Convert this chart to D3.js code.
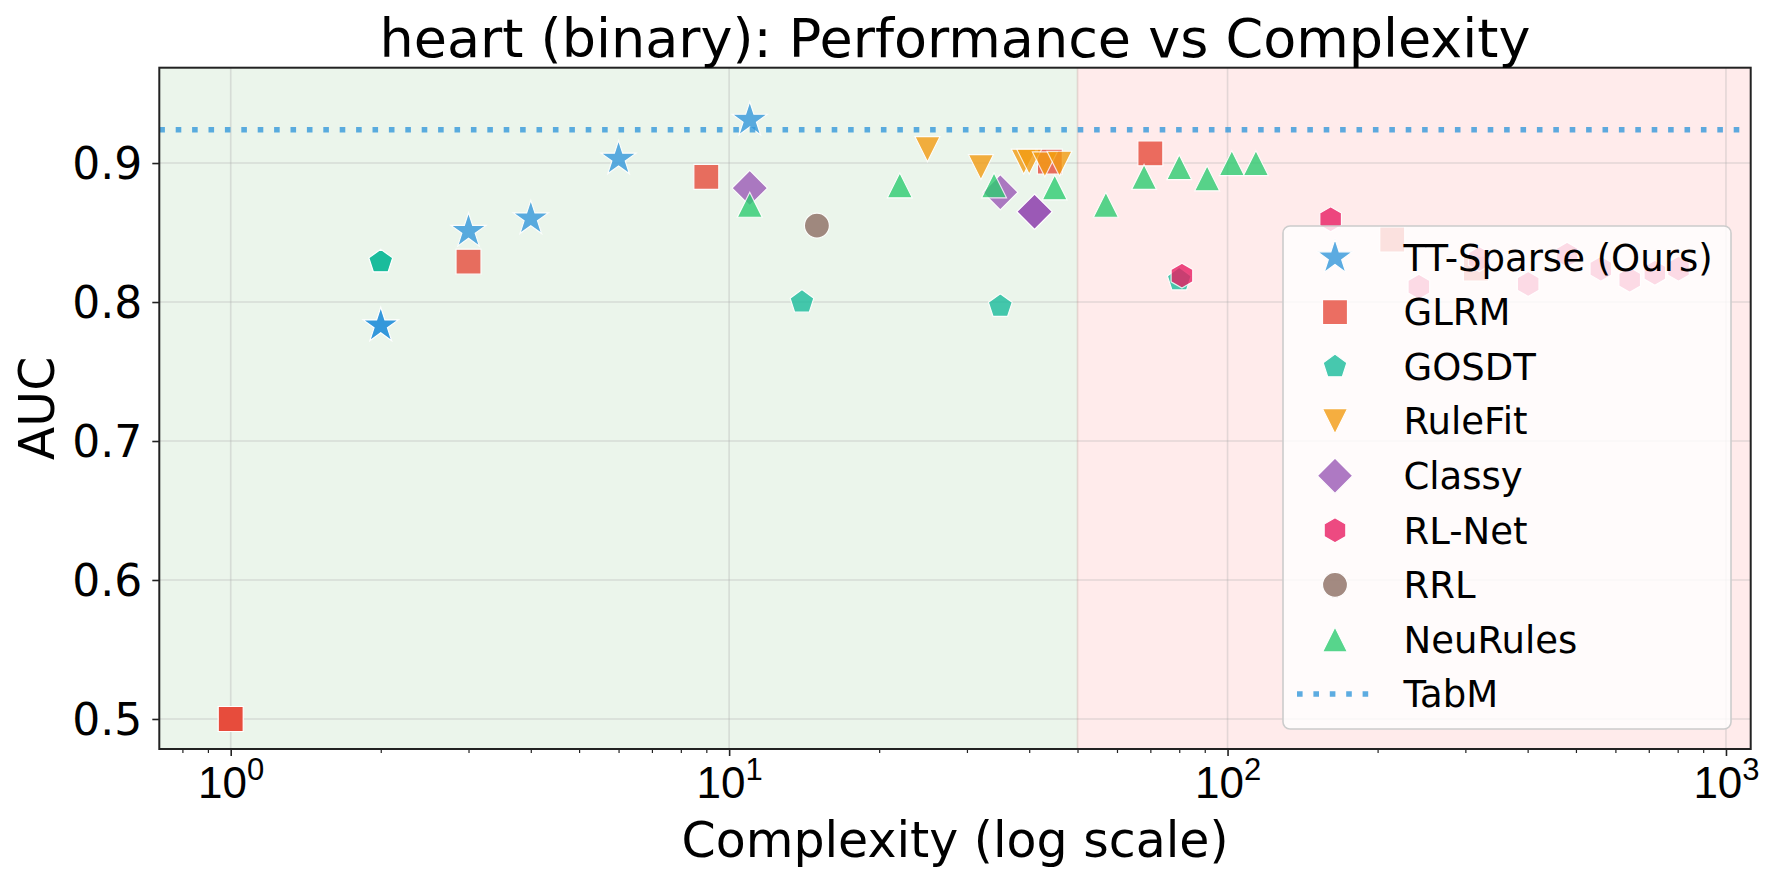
<!DOCTYPE html>
<html>
<head>
<meta charset="utf-8">
<script src="https://cdn.jsdelivr.net/npm/d3@7"></script>
<style>
  body { margin: 0; background: #fff; }
  svg { font-family: "DejaVu Sans", sans-serif; }
</style>
</head>
<body>
<div id="vis"></div>
<script>
const FRAME_WIDTH = 1779;
const FRAME_HEIGHT = 881;
const PLOT = {left: 159.3, right: 1750.7, top: 67.7, bottom: 749};

// ---- data ----
const METHODS = ["TT-Sparse (Ours)", "GLRM", "GOSDT", "RuleFit", "Classy", "RL-Net", "RRL", "NeuRules"];

const TT_SPARSE_X = [2, 3, 4, 6, 11];
const TT_SPARSE_Y = [0.783, 0.851, 0.860, 0.903, 0.931];

const GLRM_X = [1, 3, 9, 44, 70, 214, 315];
const GLRM_Y = [0.500, 0.829, 0.890, 0.901, 0.907, 0.845, 0.824];

const GOSDT_X = [2, 14, 35, 80];
const GOSDT_Y = [0.829, 0.800, 0.797, 0.816];

const RULEFIT_X = [25, 32, 39, 40, 43, 46];
const RULEFIT_Y = [0.910, 0.897, 0.901, 0.901, 0.899, 0.8995];

const CLASSY_X = [11, 35, 41];
const CLASSY_Y = [0.882, 0.879, 0.865];

const RLNET_X = [81, 161, 242, 320, 401, 480, 561, 641, 720, 803];
const RLNET_Y = [0.819, 0.8595, 0.811, 0.831, 0.813, 0.834, 0.824, 0.816, 0.821, 0.824];

const RRL_X = [15];
const RRL_Y = [0.855];

const NEURULES_X = [11, 22, 34, 45, 57, 68, 80, 91, 102, 114];
const NEURULES_Y = [0.870, 0.884, 0.884, 0.8825, 0.870, 0.890, 0.897, 0.889, 0.900, 0.900];

// points drawn fully opaque in the reference (method, complexity)
const HIGHLIGHTED = [["TT-Sparse (Ours)", 2], ["GLRM", 1], ["GOSDT", 2], ["Classy", 41]];

const TABM_AUC = 0.924;
const SIMPLE_LIMIT = 50;     // green / red split

const X_TICKS = [1, 10, 100, 1000];
const Y_TICKS = [0.5, 0.6, 0.7, 0.8, 0.9];

// ---- styles ----
const COLORS = {
  "TT-Sparse (Ours)": "#3498db", "GLRM": "#e74c3c", "GOSDT": "#1abc9c",
  "RuleFit": "#f39c12", "Classy": "#9b59b6", "RL-Net": "#e91e63",
  "RRL": "#8d6e63", "NeuRules": "#2ecc71"
};
const SHAPES = {
  "TT-Sparse (Ours)": "star", "GLRM": "square", "GOSDT": "pentagon",
  "RuleFit": "down", "Classy": "diamond", "RL-Net": "hexagon",
  "RRL": "circle", "NeuRules": "up"
};

const SERIES = [
  {name: METHODS[0], xs: TT_SPARSE_X, ys: TT_SPARSE_Y},
  {name: METHODS[1], xs: GLRM_X, ys: GLRM_Y},
  {name: METHODS[2], xs: GOSDT_X, ys: GOSDT_Y},
  {name: METHODS[3], xs: RULEFIT_X, ys: RULEFIT_Y},
  {name: METHODS[4], xs: CLASSY_X, ys: CLASSY_Y},
  {name: METHODS[5], xs: RLNET_X, ys: RLNET_Y},
  {name: METHODS[6], xs: RRL_X, ys: RRL_Y},
  {name: METHODS[7], xs: NEURULES_X, ys: NEURULES_Y}
];

// marker outline centred on 0,0 (ms = marker size in px, like matplotlib)
function polygon(n, R, start, inner) {
  const pts = [];
  const k = inner ? 2 * n : n;
  for (let i = 0; i < k; i++) {
    const a = start + i * 2 * Math.PI / k;
    const r = inner && (i % 2 === 1) ? R * inner : R;
    pts.push([r * Math.cos(a), r * Math.sin(a)]);
  }
  return "M" + pts.map(p => p[0].toFixed(2) + "," + p[1].toFixed(2)).join("L") + "Z";
}
function markerPath(shape) {
  const ms = 25, h = ms / 2, top = -Math.PI / 2;
  switch (shape) {
    case "star": return polygon(5, 18.5, top, 0.381966);
    case "square": return `M${-h},${-h}H${h}V${h}H${-h}Z`;
    case "pentagon": return polygon(5, h, top);
    case "hexagon": return polygon(6, h, top);
    case "diamond": return polygon(4, ms * Math.SQRT1_2, top);
    case "up": return `M0,${-h}L${h},${h}L${-h},${h}Z`;
    case "down": return `M0,${h}L${h},${-h}L${-h},${-h}Z`;
    case "circle": return `M${h},0A${h},${h} 0 1,1 ${-h},0A${h},${h} 0 1,1 ${h},0Z`;
  }
}

const svg = d3.select("#vis").append("svg")
  .attr("width", FRAME_WIDTH)
  .attr("height", FRAME_HEIGHT);

const X_SCALE = d3.scaleLog()
  .domain([0.719, 1121])
  .range([PLOT.left, PLOT.right]);
const Y_SCALE = d3.scaleLinear()
  .domain([0.4784, 0.9686])
  .range([PLOT.bottom, PLOT.top]);

svg.append("clipPath").attr("id", "clip")
  .append("rect")
    .attr("x", PLOT.left).attr("y", PLOT.top)
    .attr("width", PLOT.right - PLOT.left)
    .attr("height", PLOT.bottom - PLOT.top);

const plotArea = svg.append("g").attr("clip-path", "url(#clip)");

// background zones
plotArea.append("rect")
  .attr("x", PLOT.left).attr("y", PLOT.top)
  .attr("width", X_SCALE(SIMPLE_LIMIT) - PLOT.left)
  .attr("height", PLOT.bottom - PLOT.top)
  .attr("fill", "#ebf5eb");
plotArea.append("rect")
  .attr("x", X_SCALE(SIMPLE_LIMIT)).attr("y", PLOT.top)
  .attr("width", PLOT.right - X_SCALE(SIMPLE_LIMIT))
  .attr("height", PLOT.bottom - PLOT.top)
  .attr("fill", "#ffebeb");

// grid
plotArea.append("g")
  .selectAll("line.gx").data(X_TICKS).enter()
  .append("line")
    .attr("x1", d => X_SCALE(d)).attr("x2", d => X_SCALE(d))
    .attr("y1", PLOT.top).attr("y2", PLOT.bottom)
    .attr("stroke", "#b0b0b0").attr("stroke-opacity", 0.35).attr("stroke-width", 1.6);
plotArea.append("g")
  .selectAll("line.gy").data(Y_TICKS).enter()
  .append("line")
    .attr("x1", PLOT.left).attr("x2", PLOT.right)
    .attr("y1", d => Y_SCALE(d)).attr("y2", d => Y_SCALE(d))
    .attr("stroke", "#b0b0b0").attr("stroke-opacity", 0.35).attr("stroke-width", 1.6);

// split line
plotArea.append("line")
  .attr("x1", X_SCALE(SIMPLE_LIMIT)).attr("x2", X_SCALE(SIMPLE_LIMIT))
  .attr("y1", PLOT.top).attr("y2", PLOT.bottom)
  .attr("stroke", "#a08070").attr("stroke-opacity", 0.25).attr("stroke-width", 1.6);

// scatter points
SERIES.forEach(s => {
  const pts = s.xs.map((x, i) => ({x: x, y: s.ys[i]}));
  plotArea.append("g")
    .selectAll("path").data(pts).enter()
    .append("path")
      .attr("d", markerPath(SHAPES[s.name]))
      .attr("transform", d => `translate(${X_SCALE(d.x)},${Y_SCALE(d.y)})`)
      .attr("fill", COLORS[s.name])
      .attr("stroke", "#fff")
      .attr("stroke-width", 1.2)
      .attr("opacity", d => HIGHLIGHTED.some(h => h[0] === s.name && h[1] === d.x) ? 1 : 0.8);
});

// TabM reference line
plotArea.append("line")
  .attr("x1", PLOT.left).attr("x2", PLOT.right)
  .attr("y1", Y_SCALE(TABM_AUC)).attr("y2", Y_SCALE(TABM_AUC))
  .attr("stroke", "#3498db").attr("stroke-opacity", 0.8)
  .attr("stroke-width", 5.6).attr("stroke-dasharray", "5.6 10.8");

// axes
const minorTicks = [];
[0.1, 1, 10, 100, 1000].forEach(p => {
  for (let k = 2; k <= 9; k++) {
    const v = p * k;
    if (v > X_SCALE.domain()[0] && v < X_SCALE.domain()[1]) minorTicks.push(v);
  }
});

svg.append("g")
  .attr("transform", `translate(0,${PLOT.bottom})`)
  .call(d3.axisBottom(X_SCALE).tickValues(minorTicks).tickSize(4).tickFormat("").tickSizeOuter(0))
  .call(g => g.select(".domain").remove())
  .call(g => g.selectAll("line").attr("stroke", "#222").attr("stroke-width", 1.2));

const xAxis = svg.append("g")
  .attr("transform", `translate(0,${PLOT.bottom})`)
  .call(d3.axisBottom(X_SCALE).tickValues(X_TICKS).tickSize(7).tickFormat("").tickSizeOuter(0))
  .call(g => g.select(".domain").remove())
  .call(g => g.selectAll("line").attr("stroke", "#222").attr("stroke-width", 1.6));

xAxis.selectAll(".tick").append("text")
  .attr("y", 49)
  .attr("fill", "#000")
  .attr("text-anchor", "middle")
  .style("font-size", "44px")
  .each(function(d) {
    const t = d3.select(this);
    t.append("tspan").text("10");
    t.append("tspan").attr("dy", -18).style("font-size", "31px").text(Math.round(Math.log10(d)));
  });

svg.append("g")
  .attr("transform", `translate(${PLOT.left},0)`)
  .call(d3.axisLeft(Y_SCALE).tickValues(Y_TICKS).tickSize(7).tickFormat(d3.format(".1f")).tickSizeOuter(0))
  .call(g => g.select(".domain").remove())
  .call(g => g.selectAll("line").attr("stroke", "#222").attr("stroke-width", 1.6))
  .call(g => g.selectAll("text")
    .attr("x", -17).attr("dy", "0.36em")
    .attr("fill", "#000")
    .style("font-size", "44px").style("font-family", "DejaVu Sans"));

// spines
svg.append("rect")
  .attr("x", PLOT.left).attr("y", PLOT.top)
  .attr("width", PLOT.right - PLOT.left)
  .attr("height", PLOT.bottom - PLOT.top)
  .attr("fill", "none").attr("stroke", "#222").attr("stroke-width", 2);

// titles
svg.append("text")
  .attr("x", (PLOT.left + PLOT.right) / 2).attr("y", 57)
  .attr("text-anchor", "middle").style("font-size", "54px")
  .text("heart (binary): Performance vs Complexity");
svg.append("text")
  .attr("x", (PLOT.left + PLOT.right) / 2).attr("y", 857)
  .attr("text-anchor", "middle").style("font-size", "49px")
  .text("Complexity (log scale)");
svg.append("text")
  .attr("transform", `translate(54,${(PLOT.top + PLOT.bottom) / 2}) rotate(-90)`)
  .attr("text-anchor", "middle").style("font-size", "49px")
  .text("AUC");

// legend
const LEGEND = {x: 1283, y: 226, w: 448, h: 503, row0: 257.5, step: 54.56, mx: 1335, tx: 1403.5};
const legend = svg.append("g");
legend.append("rect")
  .attr("x", LEGEND.x).attr("y", LEGEND.y)
  .attr("width", LEGEND.w).attr("height", LEGEND.h)
  .attr("rx", 7)
  .attr("fill", "#fff").attr("fill-opacity", 0.8)
  .attr("stroke", "#cccccc").attr("stroke-width", 1.6);

const legendItems = METHODS.concat(["TabM"]);
legendItems.forEach((name, i) => {
  const cy = LEGEND.row0 + i * LEGEND.step;
  if (name === "TabM") {
    legend.append("line")
      .attr("x1", 1297).attr("x2", 1372)
      .attr("y1", cy).attr("y2", cy)
      .attr("stroke", "#3498db").attr("stroke-opacity", 0.8)
      .attr("stroke-width", 5.6).attr("stroke-dasharray", "5.6 10.8");
  } else {
    legend.append("path")
      .attr("d", markerPath(SHAPES[name]))
      .attr("transform", `translate(${LEGEND.mx},${cy})`)
      .attr("fill", COLORS[name]).attr("opacity", 0.8)
      .attr("stroke", "#fff").attr("stroke-width", 1.2);
  }
  legend.append("text")
    .attr("x", LEGEND.tx).attr("y", cy + 13.3)
    .style("font-size", "37px")
    .text(name);
});
</script>
</body>
</html>
